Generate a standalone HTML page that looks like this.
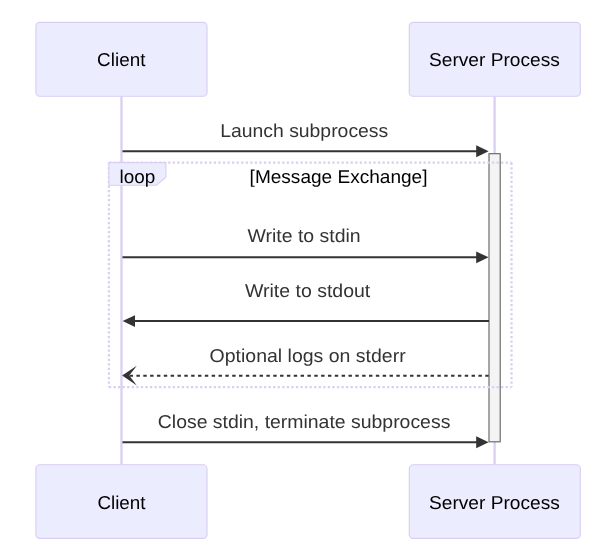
<!DOCTYPE html>
<html><head><meta charset="utf-8">
<style>
html,body{margin:0;padding:0;background:#fff;width:615px;height:558px;overflow:hidden}
svg{display:block;will-change:transform}
text{font-family:"Liberation Sans",sans-serif;font-size:18.6px;text-rendering:geometricPrecision}
.act{fill:#ECECFF;stroke:#DACEF3;stroke-width:1.14}
.atx{fill:#000;text-anchor:middle}
.msg{fill:#333;text-anchor:middle}
</style></head>
<body>
<svg width="615" height="558" viewBox="0 0 615 558">
<line x1="121.5" y1="96.2" x2="121.5" y2="464.8" stroke="#DACEF3" stroke-width="2.28"/>
<line x1="494.6" y1="96.2" x2="494.6" y2="464.8" stroke="#DACEF3" stroke-width="2.28"/>
<rect class="act" x="35.9" y="22.4" width="171.1" height="73.8" rx="3.8" ry="3.8"/>
<text class="atx" x="121.28" y="65.50" textLength="48.28" lengthAdjust="spacingAndGlyphs">Client</text>
<rect class="act" x="409.3" y="22.4" width="171.0" height="73.8" rx="3.8" ry="3.8"/>
<text class="atx" x="494.44" y="65.50" textLength="130.86" lengthAdjust="spacingAndGlyphs">Server Process</text>
<rect class="act" x="35.9" y="464.7" width="171.1" height="73.7" rx="3.8" ry="3.8"/>
<text class="atx" x="121.47" y="508.50" textLength="48.14" lengthAdjust="spacingAndGlyphs">Client</text>
<rect class="act" x="409.3" y="464.7" width="171.0" height="73.7" rx="3.8" ry="3.8"/>
<text class="atx" x="494.44" y="508.50" textLength="130.86" lengthAdjust="spacingAndGlyphs">Server Process</text>
<rect x="489" y="153.7" width="11.2" height="288.1" fill="#F4F4F4" stroke="#666" stroke-width="1.14"/>
<g stroke="#DACEF3" stroke-width="2.28" stroke-dasharray="2.28 2.28" fill="none">
<line x1="108.9" y1="162.6" x2="511.5" y2="162.6"/>
<line x1="511.5" y1="162.6" x2="511.5" y2="387.1"/>
<line x1="108.9" y1="387.1" x2="511.5" y2="387.1"/>
<line x1="108.9" y1="162.6" x2="108.9" y2="387.1"/>
</g>
<polygon points="108.9,162.6 165.9,162.6 165.9,177.2 156.3,185.2 108.9,185.2" fill="#ECECFF" stroke="#DACEF3" stroke-width="1.14"/>
<text class="atx" x="137.40" y="182.60" textLength="35.80" lengthAdjust="spacingAndGlyphs">loop</text>
<text class="atx" x="338.55" y="182.90" textLength="177.90" lengthAdjust="spacingAndGlyphs">[Message Exchange]</text>
<text class="msg" x="304.22" y="136.55" textLength="168.07" lengthAdjust="spacingAndGlyphs">Launch subprocess</text>
<line x1="122.5" y1="151.3" x2="480" y2="151.3" stroke="#333" stroke-width="2.0"/>
<polygon points="476.2,145.35 488.6,151.3 476.2,157.25" fill="#333"/>
<text class="msg" x="304.05" y="242.40" textLength="113.23" lengthAdjust="spacingAndGlyphs">Write to stdin</text>
<line x1="122.5" y1="257.3" x2="480" y2="257.3" stroke="#333" stroke-width="2.0"/>
<polygon points="476.2,251.4 488.6,257.35 476.2,263.3" fill="#333"/>
<text class="msg" x="307.60" y="297.30" textLength="125.41" lengthAdjust="spacingAndGlyphs">Write to stdout</text>
<line x1="130" y1="321.1" x2="489" y2="321.1" stroke="#333" stroke-width="2.0"/>
<polygon points="135.0,315.15 122.6,321.1 135.0,327.05" fill="#333"/>
<text class="msg" x="307.61" y="361.50" textLength="196.10" lengthAdjust="spacingAndGlyphs">Optional logs on stderr</text>
<line x1="488.7" y1="375.7" x2="126" y2="375.7" stroke="#333" stroke-width="2.1" stroke-dasharray="3.42 3.42"/>
<polygon points="122.15,375.6 136.8,365.7 129.2,375.6 136.8,385.5" fill="#333"/>
<text class="msg" x="304.08" y="427.60" textLength="292.55" lengthAdjust="spacingAndGlyphs">Close stdin, terminate subprocess</text>
<line x1="122.5" y1="442.2" x2="480" y2="442.2" stroke="#333" stroke-width="2.0"/>
<polygon points="476.2,436.3 488.6,442.25 476.2,448.2" fill="#333"/>
</svg>
</body></html>
